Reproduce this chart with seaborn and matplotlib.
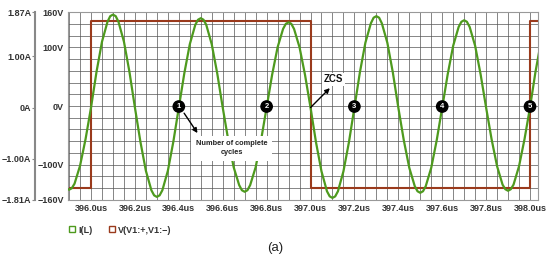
import matplotlib.pyplot as plt
import seaborn as sns
from matplotlib.ticker import MultipleLocator
from matplotlib.lines import Line2D

# time samples (us) and inductor current I(L) in A
t_us = [395.8875, 395.9000, 395.9125, 395.925, 395.950, 395.975,
        396.000, 396.025, 396.050, 396.075, 396.0875, 396.100, 396.1125, 396.125, 396.150, 396.175,
        396.200, 396.225, 396.250, 396.275, 396.2875, 396.300, 396.3125, 396.325, 396.350, 396.375,
        396.400, 396.425, 396.450, 396.475, 396.4875, 396.500, 396.5125, 396.525, 396.550, 396.575,
        396.600, 396.625, 396.650, 396.675, 396.6875, 396.700, 396.7125, 396.725, 396.750, 396.775,
        396.800, 396.825, 396.850, 396.875, 396.8875, 396.900, 396.9125, 396.925, 396.950, 396.975,
        397.000, 397.025, 397.050, 397.075, 397.0875, 397.100, 397.1125, 397.125, 397.150, 397.175,
        397.200, 397.225, 397.250, 397.275, 397.2875, 397.300, 397.3125, 397.325, 397.350, 397.375,
        397.400, 397.425, 397.450, 397.475, 397.4875, 397.500, 397.5125, 397.525, 397.550, 397.575,
        397.600, 397.625, 397.650, 397.675, 397.6875, 397.700, 397.7125, 397.725, 397.750, 397.775,
        397.800, 397.825, 397.850, 397.875, 397.8875, 397.900, 397.9125, 397.925, 397.950, 397.975,
        398.000, 398.025, 398.050]
i_L = [-1.58, -1.61, -1.58, -1.49, -1.14, -0.62,
       0.00, 0.70, 1.29, 1.68, 1.79, 1.82, 1.79, 1.68, 1.29, 0.70,
       0.00, -0.67, -1.24, -1.62, -1.72, -1.75, -1.72, -1.62, -1.24, -0.67,
       0.00, 0.67, 1.24, 1.62, 1.72, 1.75, 1.72, 1.62, 1.24, 0.67,
       0.00, -0.63, -1.17, -1.52, -1.62, -1.65, -1.62, -1.52, -1.17, -0.63,
       0.00, 0.64, 1.18, 1.54, 1.64, 1.67, 1.64, 1.54, 1.18, 0.64,
       0.00, -0.68, -1.25, -1.64, -1.74, -1.77, -1.74, -1.64, -1.25, -0.68,
       0.00, 0.69, 1.27, 1.65, 1.76, 1.79, 1.76, 1.65, 1.27, 0.69,
       0.00, -0.64, -1.18, -1.54, -1.64, -1.67, -1.64, -1.54, -1.18, -0.64,
       0.00, 0.65, 1.21, 1.58, 1.68, 1.71, 1.68, 1.58, 1.21, 0.65,
       0.00, -0.62, -1.15, -1.51, -1.60, -1.63, -1.60, -1.51, -1.15, -0.62,
       0.00, 0.70, 1.29]

# source voltage V(V1:+,V1:-): switching instants (us) and levels (V)
v_t = [395.880, 396.000, 397.000, 398.000, 398.060]
v_level = [-140, 145, -140, 145, 145]

# zero-current crossings that close each complete cycle
cycle_marks = [396.4, 396.8, 397.2, 397.6, 398.0]
zcs_time = 397.0

x_ticks = [396.0, 396.2, 396.4, 396.6, 396.8, 397.0, 397.2, 397.4, 397.6, 397.8, 398.0]
v_ticks = [-160, -100, 0, 100, 160]
v_labels = ['\u2212160V', '\u2212100V', '0V', '100V', '160V']
i_ticks = [-1.81, -1.00, 0.0, 1.00, 1.87]
i_labels = ['\u22121.81A', '\u22121.00A', '0A', '1.00A', '1.87A']

green = '#4e9a1e'
brown = '#9a3a1c'
txt = '#333333'

sns.set_theme(style='white')
plt.rcParams['font.family'] = ['Liberation Sans', 'DejaVu Sans']

fig = plt.figure(figsize=(5.5, 2.57), dpi=100)
ax = fig.add_axes([0.1236, 0.222, 0.8544, 0.731])
ax2 = ax.twinx()

sns.lineplot(x=v_t, y=v_level, ax=ax, color=brown, lw=1.5,
             drawstyle='steps-post', estimator=None, sort=False)
sns.lineplot(x=t_us, y=i_L, ax=ax2, color=green, lw=1.6,
             estimator=None, sort=False, solid_joinstyle='round')

ax.set_xlim(395.895, 398.036)
ax.set_ylim(-160, 160)
ax2.set_ylim(-1.81, 1.87)

ax.set_xticks(x_ticks)
ax.set_xticklabels([f'{v:.1f}us' for v in x_ticks], fontsize=6.5,
                   fontweight='bold', color=txt)
ax.xaxis.set_minor_locator(MultipleLocator(0.05))
ax.set_yticks(v_ticks)
ax.set_yticklabels(v_labels, fontsize=6.5, fontweight='bold', color=txt)
ax.yaxis.set_minor_locator(MultipleLocator(20))
ax.grid(True, which='both', color='#555555', lw=0.5)
ax.tick_params(axis='both', which='both', length=0, pad=3)
for s in ax.spines.values():
    s.set_color('#999999')
    s.set_linewidth(0.8)

# current axis as an offset spine on the left
ax2.spines['right'].set_visible(False)
ax2.spines['top'].set_visible(False)
ax2.spines['bottom'].set_visible(False)
ax2.spines['left'].set_visible(True)
ax2.spines['left'].set_position(('outward', 23.5))
ax2.spines['left'].set_color('#888888')
ax2.spines['left'].set_linewidth(1.5)
ax2.yaxis.set_ticks_position('left')
ax2.set_yticks(i_ticks)
ax2.set_yticklabels(i_labels, fontsize=6.5, fontweight='bold', color=txt)
ax2.tick_params(axis='y', length=2, width=0.8, color='#888888', pad=1)
ax2.set_ylabel('')
ax.set_ylabel('')
ax.set_xlabel('')

# numbered cycle markers
for n, tc in enumerate(cycle_marks, start=1):
    ax2.text(tc, 0.02, str(n), ha='center', va='center', fontsize=5.5,
             fontweight='bold', color='white', zorder=6,
             bbox=dict(boxstyle='circle,pad=0.28', fc='black', ec='black'))

ax2.annotate('', xy=(396.485, -0.50), xytext=(396.41, -0.02),
             arrowprops=dict(arrowstyle='-|>', color='black', lw=1.0,
                             mutation_scale=7, shrinkA=4, shrinkB=0), zorder=5)
ax2.text(396.64, -0.80, 'Number of complete\ncycles', ha='center', va='center',
         fontsize=5.3, fontweight='bold', color='#222222', linespacing=1.4, zorder=5,
         bbox=dict(boxstyle='square,pad=0.6', fc='white', ec='none'))

ax2.annotate('', xy=(397.088, 0.38), xytext=(zcs_time, 0.0),
             arrowprops=dict(arrowstyle='-|>', color='black', lw=1.0,
                             mutation_scale=7, shrinkA=0, shrinkB=0), zorder=5)
ax2.text(397.105, 0.55, 'ZCS', ha='center', va='center', fontsize=7,
         fontweight='bold', color='#111111', zorder=5,
         bbox=dict(boxstyle='square,pad=0.15', fc='white', ec='none'))

handles = [Line2D([], [], marker='s', ls='None', mfc='none', mec=green, ms=5, mew=1),
           Line2D([], [], marker='s', ls='None', mfc='none', mec=brown, ms=5, mew=1)]
fig.legend(handles, ['I(L)', 'V(V1:+,V1:\u2212)'], loc='center left',
           bbox_to_anchor=(0.108, 0.105), ncol=2, frameon=False,
           prop={'size': 6.5, 'weight': 'bold'}, labelcolor=txt,
           handletextpad=0.2, columnspacing=1.6, handlelength=1.0)

fig.text(0.5, 0.035, '(a)', ha='center', va='center', fontsize=9.5, color='#222222')

fig.savefig('out.png', dpi=100)
